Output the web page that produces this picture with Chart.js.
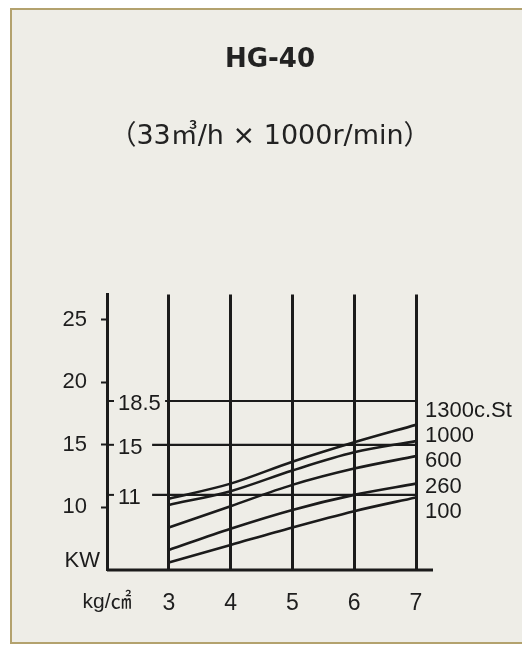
<!DOCTYPE html>
<html>
<head>
<meta charset="utf-8">
<script src="https://cdn.jsdelivr.net/npm/chart.js"></script>
<style>
  html, body { margin: 0; padding: 0; background: #fff; overflow: hidden; }
  #frame { position: absolute; left: 10px; top: 8px; width: 540px; height: 632px;
           border: 2px solid #b3a26e; background: #eeede7; }
  #myChart { position: absolute; left: 0; top: 0; }
</style>
</head>
<body>
<div id="frame"></div>
<canvas id="myChart" width="522" height="646"></canvas>
<script>
// pressure (kg/cm2) and shaft power (KW) per oil viscosity
const pressure = [3, 4, 5, 6, 7];
const xTicks = [2, 3, 4, 5, 6, 7];
const yTicks = [10, 15, 20, 25];
const curveLabels = ['1300c.St', '1000', '600', '260', '100'];
const kw1300 = [10.7, 11.9, 13.65, 15.2, 16.6];
const kw1000 = [10.2, 11.3, 12.95, 14.4, 15.3];
const kw600 = [8.4, 10.1, 11.8, 13.1, 14.1];
const kw260 = [6.6, 8.3, 9.8, 11.0, 11.9];
const kw100 = [5.6, 7.0, 8.4, 9.7, 10.8];
const refLevels = [18.5, 15, 11];
const refLabels = ['18.5', '15', '11'];
const refStart = [2.94, 2.73, 2.73];

const INK = '#1b1b1b';
const FONT = "'Liberation Sans', 'Noto Sans CJK KR', sans-serif";
const WIDE = "'DejaVu Sans', 'Noto Sans CJK KR', sans-serif";

const curves = [kw1300, kw1000, kw600, kw260, kw100].map((vals, i) => ({
    label: curveLabels[i],
    data: pressure.map((p, j) => ({ x: p, y: vals[j] })),
    borderColor: INK,
    borderWidth: 2.6,
    pointRadius: 0,
    cubicInterpolationMode: 'monotone',
    fill: false
}));

const refLines = refLevels.map((v, i) => ({
    label: refLabels[i],
    data: [{ x: refStart[i], y: v }, { x: 7, y: v }],
    borderColor: INK,
    borderWidth: 2.2,
    pointRadius: 0,
    fill: false
}));

const extras = {
    id: 'extras',
    afterDatasetsDraw(chart) {
        const { ctx, chartArea, scales: { y } } = chart;
        ctx.save();
        ctx.strokeStyle = INK;
        ctx.fillStyle = INK;

        // base line runs a bit past the last column
        ctx.lineWidth = 3;
        ctx.beginPath();
        ctx.moveTo(chartArea.left, chartArea.bottom);
        ctx.lineTo(chartArea.right + 17, chartArea.bottom);
        ctx.stroke();

        ctx.font = '22px ' + FONT;
        ctx.textBaseline = 'middle';
        ctx.textAlign = 'left';
        refLevels.forEach((v, i) => {
            const py = y.getPixelForValue(v);
            ctx.lineWidth = 2;
            ctx.beginPath();
            ctx.moveTo(chartArea.left + 1, py);
            ctx.lineTo(chartArea.left + 7, py);
            ctx.stroke();
            ctx.fillText(refLabels[i], chartArea.left + 11, py + 3);
        });

        const top = y.getPixelForValue(refLevels[0]) + 10;
        curveLabels.forEach((t, i) => ctx.fillText(t, chartArea.right + 9, top + i * 25.2));

        ctx.textAlign = 'right';
        ctx.fillText('KW', chartArea.left - 7, chartArea.bottom - 9);
        ctx.restore();
    }
};

const config = {
    type: 'line',
    data: { datasets: curves.concat(refLines) },
    options: {
        responsive: false,
        animation: false,
        layout: { padding: { left: 18, right: 0, top: 0, bottom: 26 } },
        plugins: {
            legend: { display: false },
            tooltip: { enabled: false },
            title: {
                display: true,
                text: 'HG-40',
                color: '#222',
                font: { family: WIDE, size: 26, weight: 'bold', lineHeight: 1.2 },
                padding: { top: 45, bottom: 0 }
            },
            subtitle: {
                display: true,
                text: '（33㎥/h × 1000r/min）',
                color: '#222',
                font: { family: WIDE, size: 27, lineHeight: 1.2 },
                padding: { top: 45, bottom: 141 }
            }
        },
        scales: {
            x: {
                type: 'linear',
                min: 2,
                max: 7,
                afterBuildTicks: (scale) => { scale.ticks = xTicks.map(v => ({ value: v })); },
                afterFit: (scale) => { scale.height = 50; },
                grid: { color: INK, lineWidth: 3, drawTicks: false },
                border: { display: false },
                ticks: {
                    padding: 20,
                    color: '#1e1e1e',
                    font: (c) => ({ family: FONT, size: c.tick && c.tick.value === 2 ? 21 : 23 }),
                    callback: (v) => (v === 2 ? 'kg/㎠' : v)
                }
            },
            y: {
                min: 5,
                max: 27,
                afterBuildTicks: (scale) => { scale.ticks = yTicks.map(v => ({ value: v })); },
                afterFit: (scale) => { scale.width = 89; },
                grid: { drawOnChartArea: false, drawTicks: true, tickLength: 6, tickColor: INK, tickWidth: 2 },
                border: { display: true, color: INK, width: 3 },
                ticks: { padding: 14, color: '#1e1e1e', font: { family: FONT, size: 22 } }
            },
            // empty right-hand axis only reserves room for the viscosity labels
            yRight: {
                position: 'right',
                min: 5,
                max: 27,
                afterBuildTicks: (scale) => { scale.ticks = []; },
                afterFit: (scale) => { scale.width = 106; },
                grid: { display: false },
                border: { display: false },
                ticks: { display: false }
            }
        }
    },
    plugins: [extras]
};

const myChart = new Chart(document.getElementById('myChart'), config);
</script>
</body>
</html>
